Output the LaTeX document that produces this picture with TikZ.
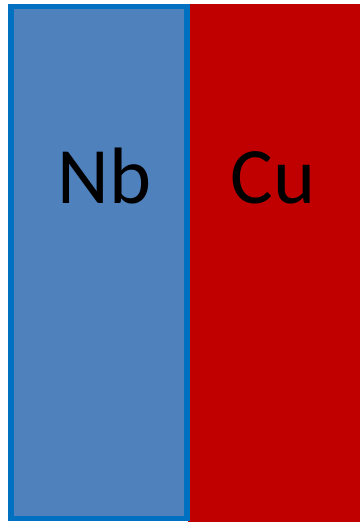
\documentclass[tikz,border=0pt]{standalone}
\usepackage{fontspec}
\setmainfont{Carlito}
\definecolor{cured}{HTML}{C00000}
\definecolor{nbfill}{HTML}{4F81BD}
\definecolor{nbline}{HTML}{0070C0}
\tikzset{
  lbl/.style={anchor=base, inner sep=0pt, font=\fontsize{80}{80}\selectfont, text=black},
}
\begin{document}
\begin{tikzpicture}[x=1pt,y=-1pt]
\useasboundingbox (0,0) rectangle (360,522);
\fill[cured] (188,4) rectangle (360,522);
\draw[line width=5.5pt, draw=nbline, fill=nbfill] (10.75,6.5) rectangle (186.75,518.25);
\node[lbl] (nb) at (104.2,203.5) {Nb};
\node[lbl] (cu) at (273.3,203.5) {Cu};
\end{tikzpicture}
\end{document}
